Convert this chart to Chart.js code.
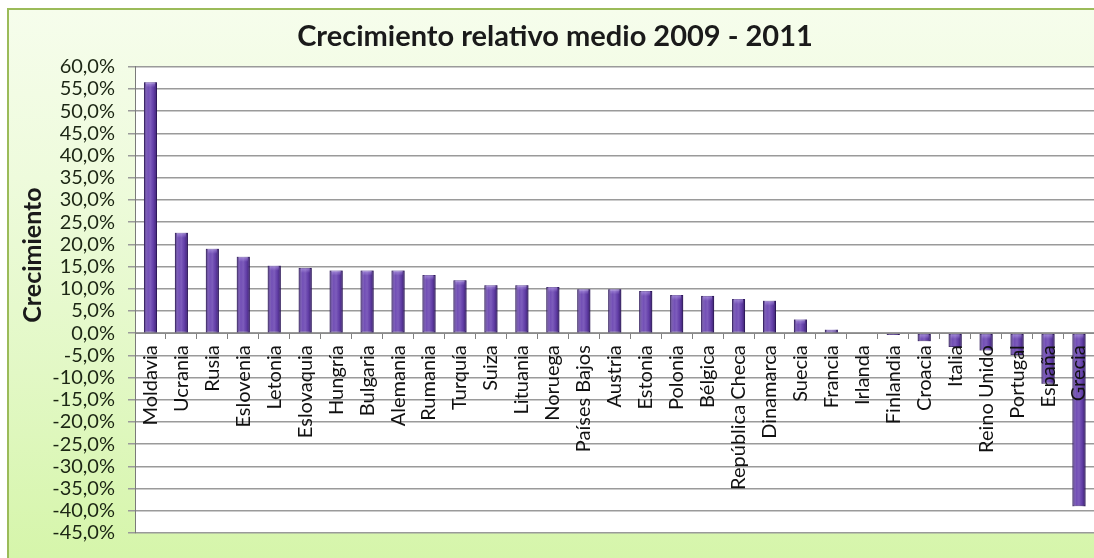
<!DOCTYPE html>
<html lang="es">
<head>
<meta charset="utf-8">
<title>Crecimiento relativo medio 2009 - 2011</title>
<script src="https://cdn.jsdelivr.net/npm/chart.js@4.4.1/dist/chart.umd.min.js"></script>
<style>
  html, body { margin: 0; padding: 0; background: #ffffff; overflow: hidden; }
  body { width: 1094px; height: 558px; position: relative; }
  #frame {
    position: absolute; left: 7px; top: 8px; width: 1100px; height: 560px;
    box-sizing: border-box;
    border-left: 2px solid #9bbb59; border-top: 2px solid #9bbb59;
    background: linear-gradient(to bottom, #f6fdec 0%, #eefbdc 30%, #e2f8c5 65%, #d5f5a9 100%);
  }
  #wrap { position: absolute; left: 0; top: 0; width: 1110px; height: 558px; }
</style>
</head>
<body>
<div id="frame"></div>
<div id="wrap"><canvas id="chart" width="1110" height="558"></canvas></div>
<script>
// Países ordenados por crecimiento relativo medio (%)
const paises = [
  'Moldavia', 'Ucrania', 'Rusia', 'Eslovenia', 'Letonia', 'Eslovaquia', 'Hungría',
  'Bulgaria', 'Alemania', 'Rumania', 'Turquía', 'Suiza', 'Lituania', 'Noruega',
  'Países Bajos', 'Austria', 'Estonia', 'Polonia', 'Bélgica', 'República Checa',
  'Dinamarca', 'Suecia', 'Francia', 'Irlanda', 'Finlandia', 'Croacia', 'Italia',
  'Reino Unido', 'Portugal', 'España', 'Grecia'
];
const crecimiento = [
  56.5, 22.6, 19.0, 17.2, 15.2, 14.7, 14.1,
  14.1, 14.1, 13.1, 11.9, 10.8, 10.8, 10.4,
  9.9, 9.9, 9.5, 8.6, 8.4, 7.7,
  7.3, 3.1, 0.8, 0.0, -0.4, -1.8, -3.1,
  -3.9, -4.9, -11.4, -39.0
];
const ejeY = { min: -45, max: 60, paso: 5 };
const titulo = 'Crecimiento relativo medio 2009 - 2011';
const tituloEjeY = 'Crecimiento';

const FUENTE = 'Lato, "Open Sans", "DejaVu Sans", sans-serif';
const formatoPct = v => v.toFixed(1).replace('.', ',') + '%';

// White plot area behind the bars
const fondoArea = {
  id: 'fondoArea',
  beforeDraw(chart) {
    const { ctx, chartArea: a } = chart;
    ctx.save();
    ctx.fillStyle = '#ffffff';
    ctx.fillRect(a.left, a.top, a.right - a.left, a.bottom - a.top);
    ctx.restore();
  }
};

// Cylinder-like shading on each bar, using the geometry of the drawn elements
const sombreadoBarras = {
  id: 'sombreadoBarras',
  afterDatasetsDraw(chart) {
    const { ctx } = chart;
    const meta = chart.getDatasetMeta(0);
    ctx.save();
    meta.data.forEach(bar => {
      const { x, y, base, width } = bar.getProps(['x', 'y', 'base', 'width'], true);
      const top = Math.min(y, base), h = Math.abs(base - y);
      if (h < 0.5) return;
      const l = x - width / 2;
      const g = ctx.createLinearGradient(l, 0, l + width, 0);
      g.addColorStop(0, 'rgba(30, 10, 70, 0.60)');
      g.addColorStop(0.3, 'rgba(255, 255, 255, 0.05)');
      g.addColorStop(0.5, 'rgba(255, 255, 255, 0.12)');
      g.addColorStop(0.72, 'rgba(40, 15, 90, 0.10)');
      g.addColorStop(1, 'rgba(30, 10, 70, 0.65)');
      ctx.fillStyle = g;
      ctx.fillRect(l, top, width, h);
      // lighter cap at the upper end of the bar
      const capH = Math.min(5, h);
      const c = ctx.createLinearGradient(0, top, 0, top + capH);
      c.addColorStop(0, 'rgba(200, 180, 245, 0.55)');
      c.addColorStop(1, 'rgba(200, 180, 245, 0)');
      ctx.fillStyle = c;
      ctx.fillRect(l + 2, top, width - 4, capH);
    });
    ctx.restore();
  }
};

// Rotated title of the value axis
const tituloVertical = {
  id: 'tituloVertical',
  afterDraw(chart) {
    const { ctx } = chart;
    ctx.save();
    ctx.translate(33, 255);
    ctx.rotate(-Math.PI / 2);
    ctx.font = 'bold 25px ' + FUENTE;
    ctx.fillStyle = '#1a1a1a';
    ctx.textAlign = 'center';
    ctx.textBaseline = 'middle';
    ctx.fillText(tituloEjeY, 0, 0);
    ctx.restore();
  }
};

new Chart(document.getElementById('chart'), {
  type: 'bar',
  data: {
    labels: paises,
    datasets: [{
      data: crecimiento,
      backgroundColor: '#6b46b2',
      borderColor: '#3c2470',
      borderWidth: 1,
      borderSkipped: false,
      categoryPercentage: 1,
      barPercentage: 0.42
    }]
  },
  options: {
    responsive: false,
    devicePixelRatio: 1,
    animation: false,
    layout: { padding: { left: 0, right: 0, top: 0, bottom: 25 } },
    plugins: {
      legend: { display: false },
      tooltip: { enabled: false },
      title: {
        display: true,
        text: titulo,
        color: '#1a1a1a',
        font: { family: FUENTE, size: 29, weight: 'bold' },
        padding: { top: 19, bottom: 13 }
      }
    },
    scales: {
      x: {
        position: { y: 0 },
        grid: {
          display: true,
          drawOnChartArea: false,
          drawTicks: true,
          tickLength: 5,
          color: '#808080',
          offset: true
        },
        border: { display: true, color: '#8a8a8a', width: 1 },
        ticks: {
          autoSkip: false,
          minRotation: 90,
          maxRotation: 90,
          padding: 7,
          z: 1,
          color: '#111111',
          font: { family: FUENTE, size: 20 }
        }
      },
      y: {
        min: ejeY.min,
        max: ejeY.max,
        afterFit(scale) { scale.width = 135; },
        grid: {
          color: '#9a9a9a',
          lineWidth: 1.5,
          drawTicks: true,
          tickLength: 7
        },
        border: { display: true, color: '#7a7a7a', width: 1 },
        ticks: {
          stepSize: ejeY.paso,
          autoSkip: false,
          padding: 13,
          color: '#1c2614',
          font: { family: FUENTE, size: 20 },
          callback: v => formatoPct(v)
        }
      }
    }
  },
  plugins: [fondoArea, sombreadoBarras, tituloVertical]
});
</script>
</body>
</html>
